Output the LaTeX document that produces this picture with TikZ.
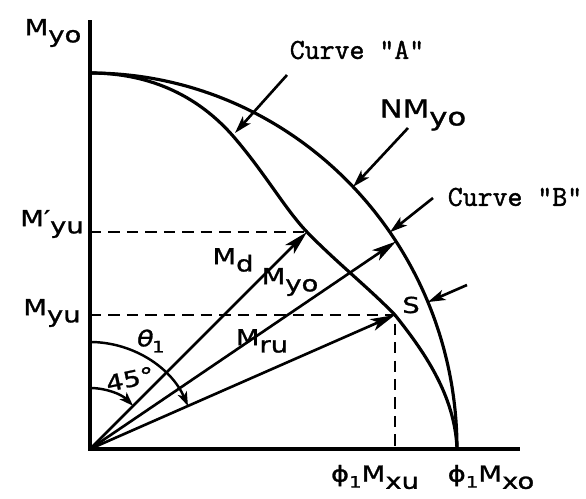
\documentclass[tikz,border=0pt]{standalone}
\usepackage{fontspec}
\usepackage{tikz}
\usetikzlibrary{arrows.meta}
\newfontfamily\labfont[FakeStretch=1.25,FakeBold=1.2]{DejaVu Sans}
\newfontfamily\slfont[FakeStretch=1.25,FakeSlant=0.2,FakeBold=1.2]{DejaVu Sans}
\newfontfamily\ttlab[FakeBold=1.5]{Latin Modern Mono}
\newcommand{\msub}[2]{#1\raisebox{-0.6ex}{#2}}
\newcommand{\smallone}{{\fontsize{9}{9}\selectfont\raisebox{-0.7ex}{1}}}

\begin{document}
\begin{tikzpicture}[
  x=0.02cm, y=0.02cm,
  axis/.style={line width=2pt},
  curve/.style={line width=1.8pt},
  vec/.style={line width=1.5pt,-{Stealth[length=14pt,width=7pt,inset=3.5pt]}},
  ptr/.style={line width=1.5pt,-{Stealth[length=10pt,width=6pt,inset=2.5pt]}},
  guide/.style={line width=1.6pt,dash pattern=on 6.5pt off 4pt},
  angarc/.style={line width=1.4pt,-{Stealth[length=8pt,width=5.5pt,inset=2pt]}},
  lab/.style={font=\fontsize{12.5}{14}\labfont,inner sep=1pt},
  tt/.style={font=\fontsize{16.5}{18}\ttlab,inner sep=1pt}
]
\useasboundingbox (-90,-49) rectangle (496,449);

% axes and key points
\coordinate (O) at (0,0);
\coordinate (ytop) at (0,429);
\coordinate (xend) at (430,0);
\coordinate (top) at (0,376);
\coordinate (D) at (217,217);
\coordinate (Y) at (33.5:367 and 376);
\coordinate (S) at (305,134);
\coordinate (yup) at (0,217);
\coordinate (yu) at (0,134);
\coordinate (xu) at (305,0);

\draw[axis] (ytop) -- (O) -- (xend);

% interaction curves
\draw[curve] (top) arc[start angle=90,end angle=0,x radius=367,y radius=376];
\draw[curve] (top) .. controls (70,376) and (115,345) .. (143,313)
  .. controls (175,276) and (195,240) .. (D)
  .. controls (245,188) and (280,160) .. (S)
  .. controls (332,100) and (365,55) .. (367,0);

% moment vectors
\draw[guide] (yup) -- (D);
\draw[guide] (yu) -- (S) -- (xu);
\draw[vec] (O) -- (D);
\draw[vec] (O) -- (Y);
\draw[vec] (O) -- (S);

% angles
\draw[angarc] (0,61) arc[start angle=90,end angle=45,radius=61];
\draw[angarc] (0,107) arc[start angle=90,end angle=23.7,radius=107];

% labels
\node[lab] (myo) at (-37,416) {\msub{M}{yo}};
\node[lab] (myup) at (-38,225) {\msub{M′}{yu}};
\node[lab] (myu) at (-38,136) {\msub{M}{yu}};
\node[lab] (md) at (143,189) {\msub{M}{d}};
\node[lab] (myov) at (200,167) {\msub{M}{yo}};
\node[lab] (mru) at (172,108) {\msub{M}{ru}};
\node[lab] (th) at (60,108) {{\slfont θ}\smallone};
\node[lab,rotate=12] (deg) at (40,70) {45°};
\node[lab] (s) at (321,144) {S};
\node[lab,font=\fontsize{14}{16}\labfont] (nmyo) at (333,334) {N\msub{M}{yo}};
\node[tt] (ca) at (267,399) {Curve "A"};
\node[tt] (cb) at (425,252) {Curve "B"};
\node[lab] (pxu) at (285,-28) {ϕ\smallone\msub{M}{xu}};
\node[lab] (pxo) at (401,-28) {ϕ\smallone\msub{M}{xo}};

% pointers
\coordinate (catail) at (197,374);
\coordinate (nmtail) at (318,321);
\coordinate (cbtail) at (343,251);
\coordinate (stail) at (377,164);
\draw[ptr] (catail) -- (145,316);
\draw[ptr] (nmtail) -- (44.2:367 and 376);
\draw[ptr] (cbtail) -- (35.2:367 and 376);
\draw[ptr] (stail) -- (23:367 and 376);
\end{tikzpicture}
\end{document}
